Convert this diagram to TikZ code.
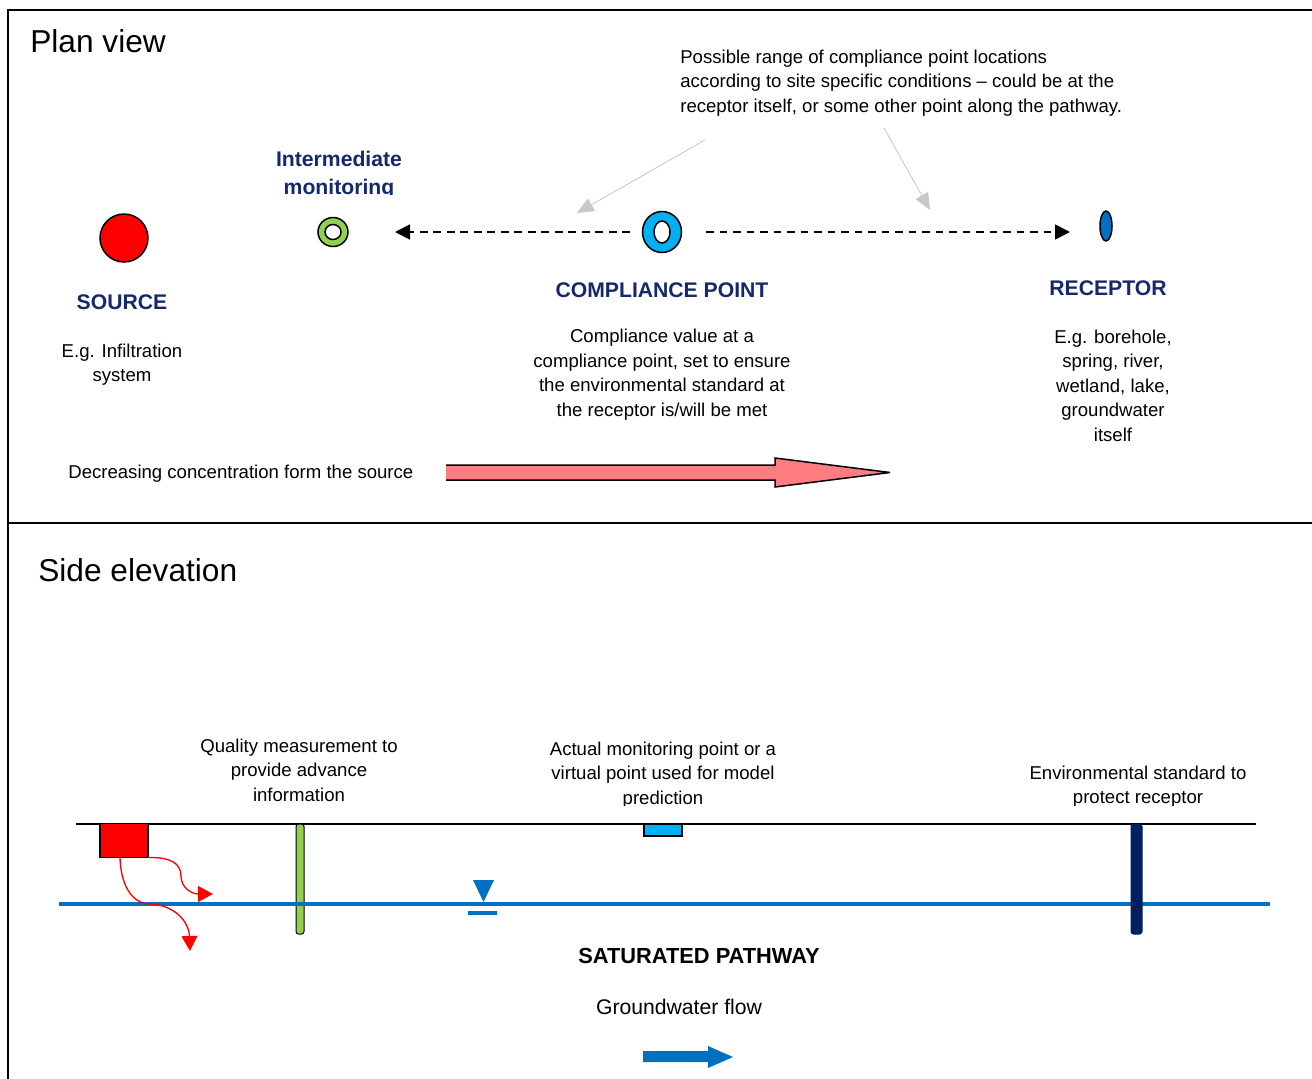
\documentclass[tikz,border=0pt]{standalone}
\usepackage{fontspec}
\setmainfont{Liberation Sans}
\usetikzlibrary{arrows.meta,positioning,shapes.geometric}

\definecolor{navy}{RGB}{20,40,110}
\definecolor{lgreen}{HTML}{92D050}
\definecolor{cyanb}{HTML}{00B0F0}
\definecolor{midblue}{HTML}{0070C0}
\definecolor{dnavy}{HTML}{002060}
\definecolor{pinkarr}{HTML}{FF7C80}
\definecolor{lgrey}{RGB}{200,200,200}

\begin{document}
\begin{tikzpicture}[x=0.6pt,y=-0.6pt,>={Triangle[length=9pt,width=9pt]},
    txt/.style={font=\fontsize{11.15}{14.7}\selectfont,align=center,inner sep=0pt},
    lbl/.style={font=\fontsize{12.7}{16.8}\selectfont\bfseries,text=navy,align=center,inner sep=0pt},
    ttl/.style={font=\fontsize{19}{23}\selectfont,inner sep=0pt,anchor=base west},
    ring/.style={ellipse,draw,line width=0.9pt,inner sep=0pt,outer sep=0pt},
    hole/.style={ellipse,draw,fill=white,line width=0.9pt,inner sep=0pt,outer sep=0pt},
    dsh/.style={dash pattern=on 4.6pt off 3.5pt,line width=1.1pt},
    gry/.style={color=lgrey,line width=0.5pt,-{Triangle[length=10pt,width=8.5pt]}},
    well/.style={draw,line width=0.6pt,rounded corners=1.5pt,inner sep=0pt,outer sep=0pt,minimum height=66pt},
    flow/.style={red,line width=0.8pt,-{Triangle[length=9pt,width=9.5pt]}},
    water/.style={midblue,line width=2.2pt}]

    \useasboundingbox (0,0) rectangle (1312,1079);

    % frame
    \draw[line width=1pt] (8,1079) -- (8,10) -- (1312,10);
    \draw[line width=1pt] (8,523) -- (1312,523);

    % plan view
    \node[ttl] (plan) at (30,52) {Plan view};

    \node[ring,fill=red,minimum size=28.8pt] (src) at (124,238) {};
    \node[ring,fill=lgreen,minimum width=18pt,minimum height=17.4pt] (im) at (333,232) {};
    \node[hole,minimum width=9.6pt,minimum height=9pt] at (im) {};
    \node[ring,fill=cyanb,minimum width=23.4pt,minimum height=24.6pt] (cp) at (662,232) {};
    \node[hole,minimum width=9.6pt,minimum height=13.2pt] at (cp) {};
    \node[ring,fill=midblue,minimum width=7.2pt,minimum height=18pt] (rc) at (1106,226) {};

    \draw[dsh,->,shorten <=7.5pt,shorten >=28.2pt] (cp.west) -- (im.east);
    \draw[dsh,->,shorten <=14.7pt,shorten >=18pt] (cp.east) -- (cp.east -| rc.west);

    \begin{scope}
        \clip (0,0) rectangle (1312,194);
        \node[lbl,anchor=north] (imlbl) at (339,151) {Intermediate\\monitoring};
    \end{scope}

    \node[lbl,below=19.2pt of src,xshift=-1.2pt] (srclbl) {SOURCE};
    \node[txt,below=20.4pt of srclbl] (srctxt) {E.g. Infiltration\\system};
    \node[lbl,below=18.2pt of cp] (cplbl) {COMPLIANCE POINT};
    \node[txt,below=18.4pt of cplbl] (cptxt) {Compliance value at a\\compliance point, set to ensure\\the environmental standard at\\the receptor is/will be met};
    \node[lbl,below=23.4pt of rc,xshift=1.2pt] (rclbl) {RECEPTOR};
    \node[txt,below=20.4pt of rclbl,xshift=3pt] (rctxt) {E.g. borehole,\\spring, river,\\wetland, lake,\\groundwater\\itself};

    \node[txt,align=left,anchor=north west] (note) at (680,49.6) {Possible range of compliance point locations\\according to site specific conditions -- could be at the\\receptor itself, or some other point along the pathway.};
    \coordinate (n1) at (705,140);
    \coordinate (t1) at (577,213);
    \coordinate (n2) at (884,128);
    \coordinate (t2) at (930,210);
    \draw[gry] (n1) -- (t1);
    \draw[gry] (n2) -- (t2);

    \node[txt,anchor=base west] (dec) at (68,478) {Decreasing concentration form the source};
    \fill[pinkarr] (446,465) -- (775,465) -- (775,458) -- (890,472.5) -- (775,487) -- (775,480) -- (446,480) -- cycle;
    \draw[line width=0.9pt,line join=miter,miter limit=3] (446,465) -- (775,465) -- (775,458) -- (890,472.5) -- (775,487) -- (775,480) -- (446,480);

    % side elevation
    \node[ttl] (side) at (38,581) {Side elevation};

    \node[txt,anchor=north] (qtxt) at (299,738.6) {Quality measurement to\\provide advance\\information};
    \begin{scope}
        \clip (0,0) rectangle (1312,805);
        \node[txt,anchor=north] (atxt) at (663,741.6) {Actual monitoring point or a\\virtual point used for model\\prediction};
        \node[txt,anchor=north] (etxt) at (1138,765.6) {Environmental standard to\\protect receptor};
    \end{scope}

    \coordinate (gl) at (76,824);
    \coordinate (gr) at (1256,824);
    \draw[line width=0.9pt] (gl) -- (gr);

    \node[well,fill=lgreen,minimum width=4.8pt] (qw) at (300,879) {};
    \coordinate (wl) at (59,904);
    \coordinate (wr) at (1270,904);
    \draw[water] (wl) -- (wr);
    \node[well,fill=dnavy,draw=dnavy,minimum width=6.6pt] (ew) at (1136.5,879) {};

    \node[draw,fill=red,line width=0.8pt,minimum width=28.8pt,minimum height=20.4pt,inner sep=0pt,outer sep=0pt] (sbox) at (124,840.5) {};
    \node[draw,fill=cyanb,line width=0.8pt,minimum width=22.8pt,minimum height=7.2pt,inner sep=0pt,outer sep=0pt] (abox) at (663,830) {};

    \draw[flow] (sbox.south east) .. controls (170,857) and (181,863) .. (181,876) .. controls (181,888) and (192,894) .. (213,894);
    \draw[flow] ([xshift=-2.4pt]sbox.south) .. controls (121,890) and (135,904) .. (150,904) .. controls (175,905) and (189,922) .. (190,951);

    % water table mark
    \fill[midblue] (473,880) -- (494,880) -- (483.5,902) -- cycle;
    \draw[water] (468,913) -- (497,913);

    \node[lbl,text=black,font=\fontsize{13.1}{16}\selectfont\bfseries,anchor=base] (sat) at (699,963) {SATURATED PATHWAY};
    \node[txt,font=\fontsize{12.7}{15}\selectfont,anchor=base] (gwf) at (679,1014) {Groundwater flow};
    \fill[midblue] (643,1051) -- (708,1051) -- (708,1046) -- (733,1057) -- (708,1068) -- (708,1062) -- (643,1062) -- cycle;

\end{tikzpicture}
\end{document}
